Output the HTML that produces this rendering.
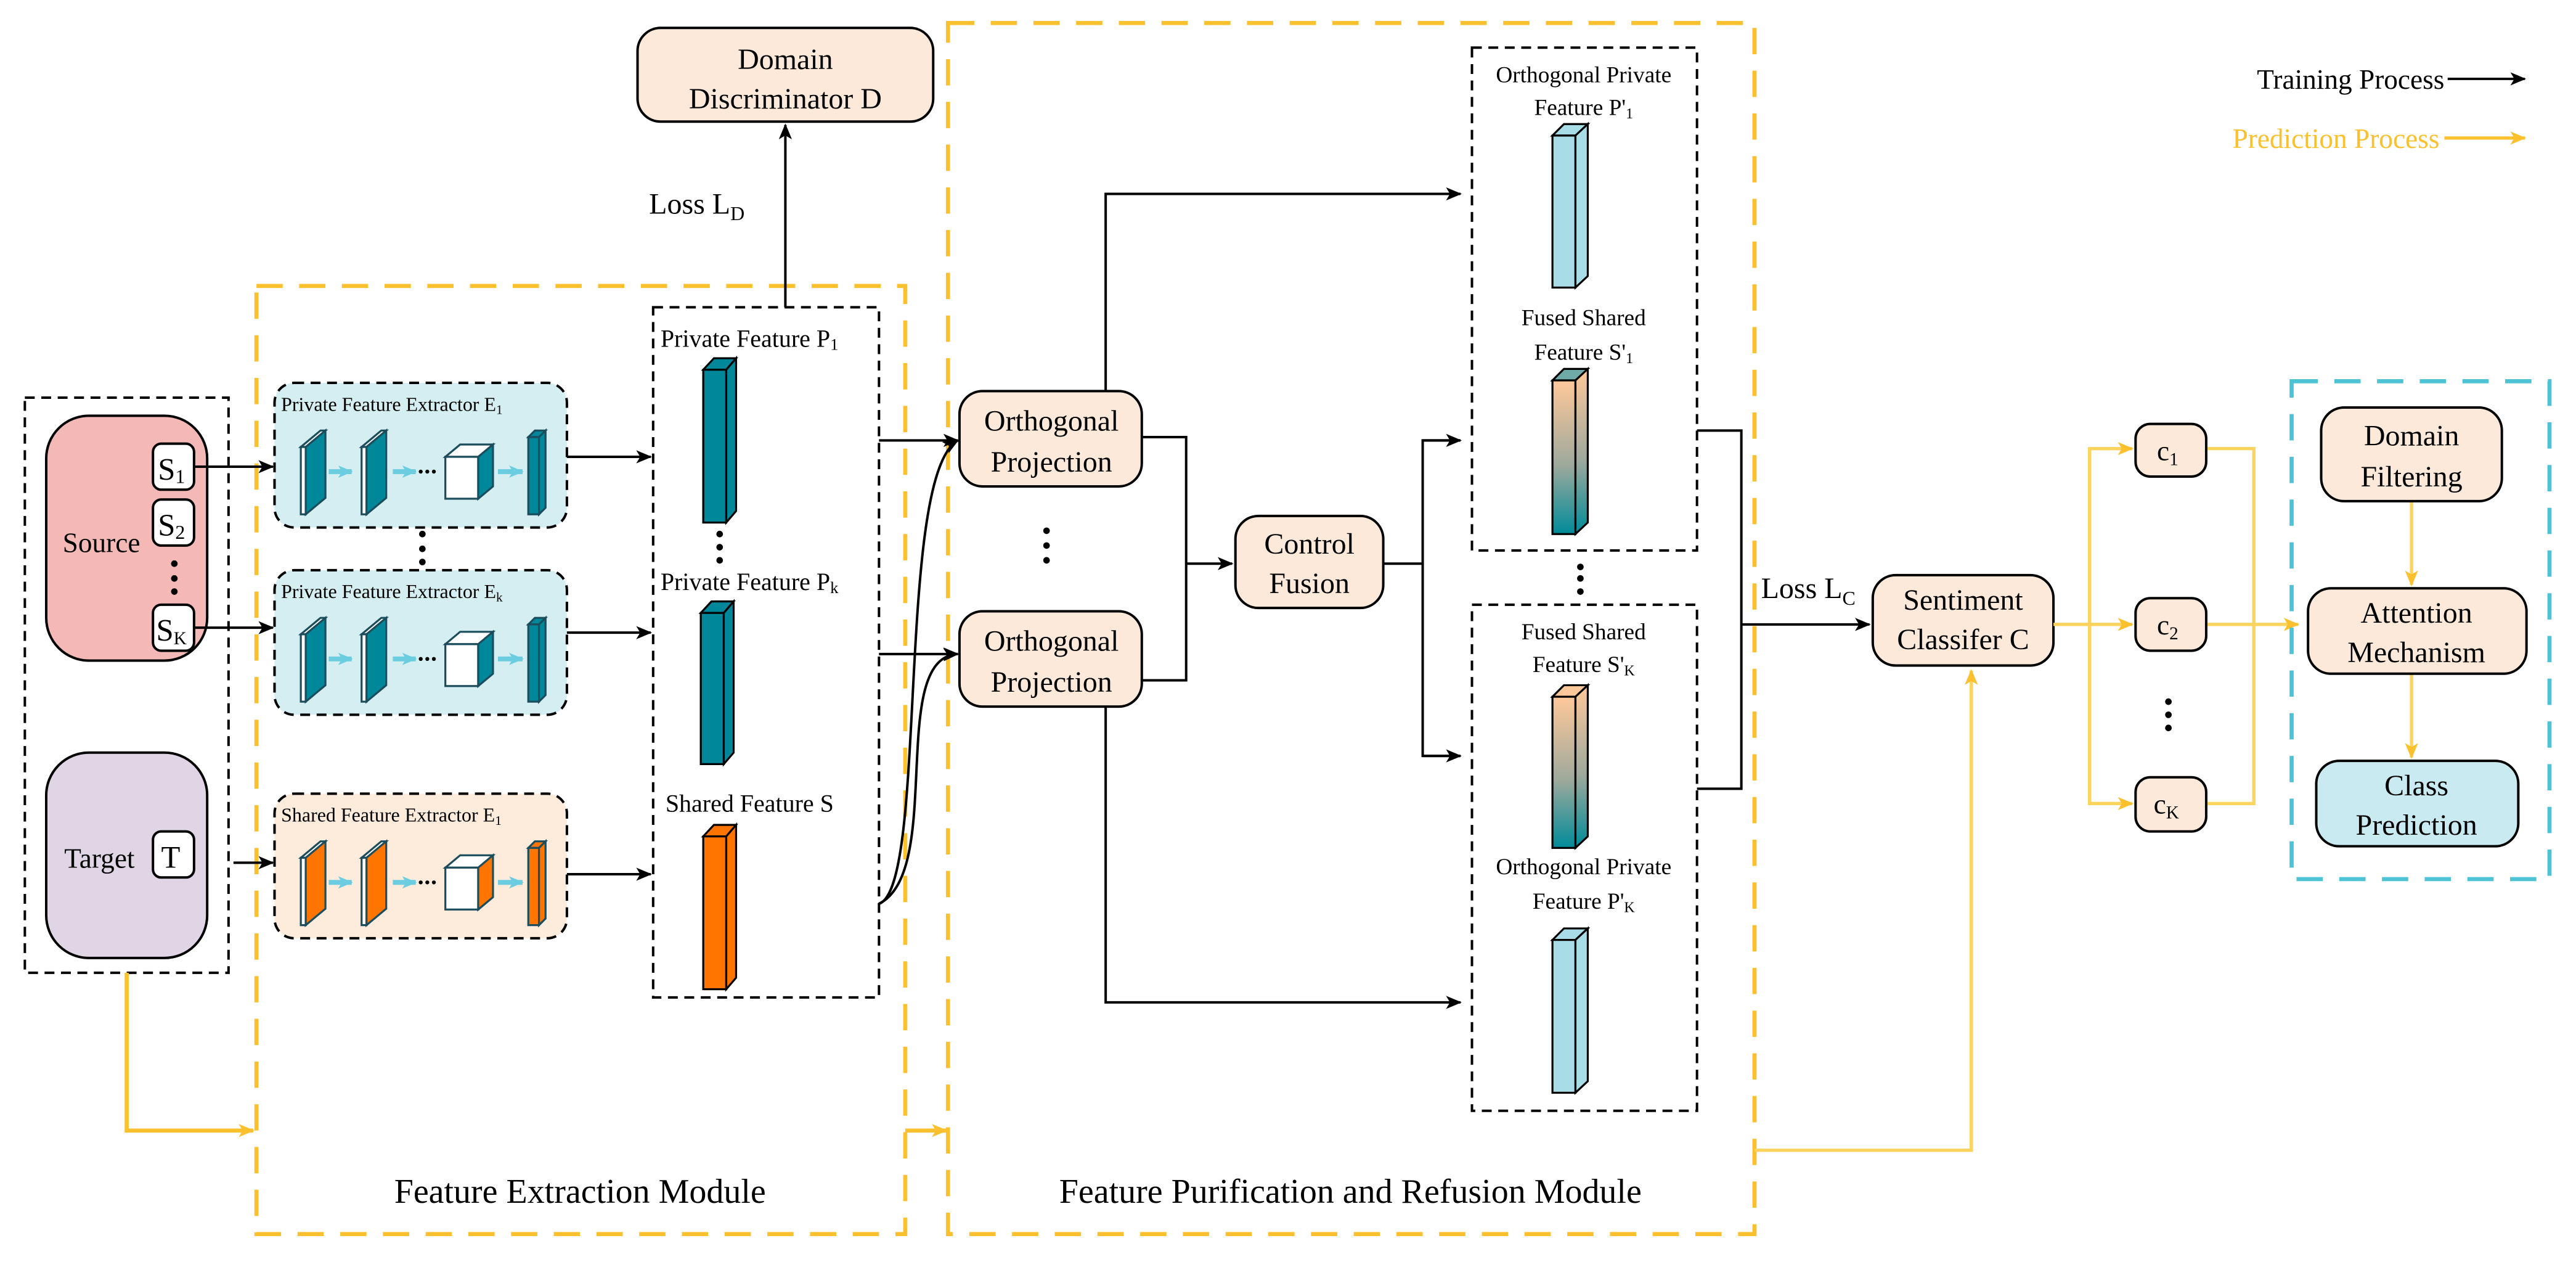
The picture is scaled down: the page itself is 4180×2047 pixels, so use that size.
<!DOCTYPE html>
<html><head><meta charset="utf-8"><style>html,body{margin:0;padding:0;background:#fff}svg{display:block}svg text{font-family:"Liberation Serif","Times New Roman",serif !important;fill:#000}</style></head><body>
<svg width="4180" height="2047" viewBox="0 0 1568 768" xmlns="http://www.w3.org/2000/svg" font-family="Liberation Serif, serif">
<defs>
<marker id="ab" viewBox="0 0 12 10" refX="11" refY="5" markerWidth="10" markerHeight="8" markerUnits="userSpaceOnUse" orient="auto"><path d="M0,0 L12,5 L0,10 L3,5 z" fill="#000"/></marker>
<marker id="ay" viewBox="0 0 12 10" refX="11" refY="5" markerWidth="10" markerHeight="8" markerUnits="userSpaceOnUse" orient="auto"><path d="M0,0 L12,5 L0,10 L3,5 z" fill="#fbc02d"/></marker>
<marker id="ac" viewBox="0 0 12 10" refX="11" refY="5" markerWidth="9" markerHeight="9" markerUnits="userSpaceOnUse" orient="auto"><path d="M0,0 L12,5 L0,10 L3,5 z" fill="#6ccde0"/></marker>
<linearGradient id="gr" x1="0" y1="0" x2="0" y2="1"><stop offset="0" stop-color="#ffc89a"/><stop offset="0.55" stop-color="#9ea99c"/><stop offset="1" stop-color="#008b99"/></linearGradient>
<g id="extT">
 <rect x="0" y="0" width="178" height="88" rx="12" fill="#d5eef2" stroke="#000" stroke-width="1.5" stroke-dasharray="6,4"/>
 <g stroke="#1b4d5c" stroke-width="1.2">
 <polygon points="16,39 28,29 31,29 19,39" fill="#fff"/><rect x="16" y="39" width="3" height="41" fill="#fff"/><polygon points="19,39 31,29 31,70 19,80" fill="#00879a"/>
 <polygon points="53,39 65,29 68,29 56,39" fill="#fff"/><rect x="53" y="39" width="3" height="41" fill="#fff"/><polygon points="56,39 68,29 68,70 56,80" fill="#00879a"/>
 <polygon points="104,45 113,37.5 133,37.5 124,45" fill="#fff"/><rect x="104" y="45" width="20" height="25.5" fill="#fff"/><polygon points="124,45 133,37.5 133,63 124,70.5" fill="#00879a"/>
 <polygon points="154.5,33 158.5,29 165,29 161,33" fill="#00879a"/><rect x="154.5" y="33" width="6.5" height="47" fill="#00879a"/><polygon points="161,33 165,29 165,76 161,80" fill="#00879a"/>
 </g>
 <circle cx="89" cy="54" r="1.2"/><circle cx="93" cy="54" r="1.2"/><circle cx="97" cy="54" r="1.2"/>
 <g stroke="#6ccde0" stroke-width="3"><line x1="33" y1="54" x2="47" y2="54" marker-end="url(#ac)"/><line x1="72" y1="54" x2="86" y2="54" marker-end="url(#ac)"/><line x1="136" y1="54" x2="151" y2="54" marker-end="url(#ac)"/></g>
</g>
<g id="extS">
 <rect x="0" y="0" width="178" height="88" rx="12" fill="#fdebdc" stroke="#000" stroke-width="1.5" stroke-dasharray="6,4"/>
 <g stroke="#1b4d5c" stroke-width="1.2">
 <polygon points="16,39 28,29 31,29 19,39" fill="#fff"/><rect x="16" y="39" width="3" height="41" fill="#fff"/><polygon points="19,39 31,29 31,70 19,80" fill="#ff7500"/>
 <polygon points="53,39 65,29 68,29 56,39" fill="#fff"/><rect x="53" y="39" width="3" height="41" fill="#fff"/><polygon points="56,39 68,29 68,70 56,80" fill="#ff7500"/>
 <polygon points="104,45 113,37.5 133,37.5 124,45" fill="#fff"/><rect x="104" y="45" width="20" height="25.5" fill="#fff"/><polygon points="124,45 133,37.5 133,63 124,70.5" fill="#ff7500"/>
 <polygon points="154.5,33 158.5,29 165,29 161,33" fill="#ff7500"/><rect x="154.5" y="33" width="6.5" height="47" fill="#ff7500"/><polygon points="161,33 165,29 165,76 161,80" fill="#ff7500"/>
 </g>
 <circle cx="89" cy="54" r="1.2"/><circle cx="93" cy="54" r="1.2"/><circle cx="97" cy="54" r="1.2"/>
 <g stroke="#6ccde0" stroke-width="3"><line x1="33" y1="54" x2="47" y2="54" marker-end="url(#ac)"/><line x1="72" y1="54" x2="86" y2="54" marker-end="url(#ac)"/><line x1="136" y1="54" x2="151" y2="54" marker-end="url(#ac)"/></g>
</g>
</defs>

<!-- legend -->
<text x="1488" y="54" font-size="17" text-anchor="end">Training Process</text>
<line x1="1490" y1="48" x2="1537" y2="48" stroke="#000" stroke-width="1.5" marker-end="url(#ab)"/>
<text x="1485" y="90" font-size="17" text-anchor="end" style="fill:#fbc02d">Prediction Process</text>
<line x1="1488" y1="84" x2="1537" y2="84" stroke="#fbc02d" stroke-width="2" marker-end="url(#ay)"/>

<!-- input box -->
<rect x="15" y="242" width="124" height="350" fill="none" stroke="#000" stroke-width="1.5" stroke-dasharray="6,4"/>
<rect x="28" y="253" width="98" height="149" rx="26" fill="#f4b9b6" stroke="#000" stroke-width="1.5"/>
<text x="38" y="336" font-size="17">Source</text>
<rect x="93" y="270" width="25" height="28" rx="5" fill="#fff" stroke="#000" stroke-width="1.5"/><text x="96" y="292" font-size="19">S<tspan font-size="12" dy="2">1</tspan></text>
<rect x="93" y="304" width="25" height="28" rx="5" fill="#fff" stroke="#000" stroke-width="1.5"/><text x="96" y="326" font-size="19">S<tspan font-size="12" dy="2">2</tspan></text>
<circle cx="106" cy="343" r="2"/><circle cx="106" cy="352" r="2"/><circle cx="106" cy="360" r="2"/>
<rect x="93" y="368" width="25" height="28" rx="5" fill="#fff" stroke="#000" stroke-width="1.5"/><text x="95" y="390" font-size="19">S<tspan font-size="11" dy="2">K</tspan></text>
<rect x="28" y="458" width="98" height="125" rx="26" fill="#e0d5e5" stroke="#000" stroke-width="1.5"/>
<text x="39" y="528" font-size="17">Target</text>
<rect x="93" y="506" width="25" height="28" rx="5" fill="#fff" stroke="#000" stroke-width="1.5"/><text x="98" y="528" font-size="19">T</text>

<!-- feature extraction module -->
<rect x="156" y="174" width="395" height="577" fill="none" stroke="#fbc02d" stroke-width="2.5" stroke-dasharray="16,10"/>
<text x="353" y="732" font-size="21" text-anchor="middle">Feature Extraction Module</text>
<polyline points="77,592 77,688 154,688" fill="none" stroke="#fbc02d" stroke-width="2.5" marker-end="url(#ay)"/>
<polyline points="551,688 576,688" fill="none" stroke="#fbc02d" stroke-width="2.5" marker-end="url(#ay)"/>

<use href="#extT" x="167" y="233"/>
<text x="171" y="250" font-size="12">Private Feature Extractor E<tspan font-size="8" dy="2">1</tspan></text>
<use href="#extT" x="167" y="347"/>
<text x="171" y="364" font-size="12">Private Feature Extractor E<tspan font-size="8" dy="2">k</tspan></text>
<use href="#extS" x="167" y="483"/>
<text x="171" y="500" font-size="12">Shared Feature Extractor E<tspan font-size="8" dy="2">1</tspan></text>
<circle cx="257" cy="325" r="2"/><circle cx="257" cy="334" r="2"/><circle cx="257" cy="342" r="2"/>

<g stroke="#000" stroke-width="1.5" fill="none">
<line x1="118" y1="284" x2="166" y2="284" marker-end="url(#ab)"/>
<line x1="118" y1="382" x2="166" y2="382" marker-end="url(#ab)"/>
<line x1="142" y1="525" x2="166" y2="525" marker-end="url(#ab)"/>
<line x1="345" y1="278" x2="396" y2="278" marker-end="url(#ab)"/>
<line x1="345" y1="385" x2="396" y2="385" marker-end="url(#ab)"/>
<line x1="345" y1="532" x2="396" y2="532" marker-end="url(#ab)"/>
</g>

<!-- private feature box -->
<rect x="397.5" y="187" width="137.5" height="420" fill="none" stroke="#000" stroke-width="1.5" stroke-dasharray="6,4"/>
<text x="402" y="211" font-size="15">Private Feature P<tspan font-size="10" dy="2">1</tspan></text>
<g stroke="#000" stroke-width="1.2">
<polygon points="428,225 434.5,218 448,218 442,225" fill="#00879a"/><rect x="428" y="225" width="14" height="93" fill="#00879a"/><polygon points="442,225 448,218 448,311 442,318" fill="#00879a"/>
<polygon points="426.5,373 433,366 446.5,366 440.5,373" fill="#00879a"/><rect x="426.5" y="373" width="14" height="92" fill="#00879a"/><polygon points="440.5,373 446.5,366 446.5,458 440.5,465" fill="#00879a"/>
<polygon points="428,509 434.5,502 448,502 442,509" fill="#ff7500"/><rect x="428" y="509" width="14" height="93" fill="#ff7500"/><polygon points="442,509 448,502 448,595 442,602" fill="#ff7500"/>
</g>
<circle cx="438" cy="325" r="2"/><circle cx="438" cy="333" r="2"/><circle cx="438" cy="341" r="2"/>
<text x="402" y="359" font-size="15">Private Feature P<tspan font-size="10" dy="2">k</tspan></text>
<text x="405" y="494" font-size="15">Shared Feature S</text>

<!-- domain discriminator -->
<rect x="388" y="17" width="180" height="57" rx="14" fill="#fde9da" stroke="#000" stroke-width="1.5"/>
<text x="478" y="42" font-size="18" text-anchor="middle">Domain</text>
<text x="478" y="66" font-size="18" text-anchor="middle">Discriminator D</text>
<line x1="478" y1="187" x2="478" y2="76" stroke="#000" stroke-width="1.5" marker-end="url(#ab)"/>
<text x="395" y="130" font-size="18">Loss L<tspan font-size="12" dy="4">D</tspan></text>

<!-- purification module -->
<rect x="577" y="14" width="491" height="737" fill="none" stroke="#fbc02d" stroke-width="2.5" stroke-dasharray="16,10"/>
<text x="822" y="732" font-size="21" text-anchor="middle">Feature Purification and Refusion Module</text>

<rect x="584" y="238" width="111" height="58" rx="14" fill="#fde9da" stroke="#000" stroke-width="1.5"/>
<text x="640" y="262" font-size="18" text-anchor="middle">Orthogonal</text><text x="640" y="287" font-size="18" text-anchor="middle">Projection</text>
<rect x="584" y="372" width="111" height="58" rx="14" fill="#fde9da" stroke="#000" stroke-width="1.5"/>
<text x="640" y="396" font-size="18" text-anchor="middle">Orthogonal</text><text x="640" y="421" font-size="18" text-anchor="middle">Projection</text>
<circle cx="637" cy="323" r="2"/><circle cx="637" cy="332" r="2"/><circle cx="637" cy="341" r="2"/>

<g stroke="#000" stroke-width="1.5" fill="none">
<path d="M535,268 L583,268" marker-end="url(#ab)"/>
<path d="M535,550 C565,540 545,290 583,268" marker-end="url(#ab)"/>
<path d="M535,398 L583,398" marker-end="url(#ab)"/>
<path d="M535,550 C575,530 540,400 583,398" marker-end="url(#ab)"/>
<polyline points="673,238 673,118 889,118" marker-end="url(#ab)"/>
<polyline points="673,430 673,610 889,610" marker-end="url(#ab)"/>
<polyline points="695,266 722,266 722,414 695,414"/>
<line x1="722" y1="343" x2="750" y2="343" marker-end="url(#ab)"/>
<polyline points="842,343 866,343"/>
<polyline points="889,268 866,268 866,460 889,460"/>
<line x1="866" y1="268" x2="889" y2="268" marker-end="url(#ab)"/>
<line x1="866" y1="460" x2="889" y2="460" marker-end="url(#ab)"/>
<polyline points="1033,262 1060,262 1060,480 1033,480"/>
<line x1="1060" y1="380" x2="1138" y2="380" marker-end="url(#ab)"/>
</g>
<rect x="752" y="314" width="90" height="56" rx="14" fill="#fde9da" stroke="#000" stroke-width="1.5"/>
<text x="797" y="337" font-size="18" text-anchor="middle">Control</text><text x="797" y="361" font-size="18" text-anchor="middle">Fusion</text>

<!-- top right feature box -->
<rect x="896" y="29" width="137" height="306" fill="none" stroke="#000" stroke-width="1.5" stroke-dasharray="6,4"/>
<text x="964" y="50" font-size="14" text-anchor="middle">Orthogonal Private</text>
<text x="964" y="70" font-size="14" text-anchor="middle">Feature P'<tspan font-size="9" dy="2">1</tspan></text>
<g stroke="#000" stroke-width="1.2">
<polygon points="945,82.5 952,75.5 966.5,75.5 959,82.5" fill="#a8dde8"/><rect x="945" y="82.5" width="14" height="92.5" fill="#a8dde8"/><polygon points="959,82.5 966.5,75.5 966.5,168 959,175" fill="#a8dde8"/>
<polygon points="945,231.5 952,224.5 966.5,224.5 959,231.5" fill="#6fa9a8"/><rect x="945" y="231.5" width="14" height="93.5" fill="url(#gr)"/><polygon points="959,231.5 966.5,224.5 966.5,318 959,325" fill="url(#gr)"/>
</g>
<text x="964" y="198" font-size="14" text-anchor="middle">Fused Shared</text>
<text x="964" y="219" font-size="14" text-anchor="middle">Feature S'<tspan font-size="9" dy="2">1</tspan></text>
<circle cx="962" cy="345" r="2"/><circle cx="962" cy="352" r="2"/><circle cx="962" cy="360" r="2"/>

<rect x="896" y="368" width="137" height="308" fill="none" stroke="#000" stroke-width="1.5" stroke-dasharray="6,4"/>
<text x="964" y="389" font-size="14" text-anchor="middle">Fused Shared</text>
<text x="964" y="409" font-size="14" text-anchor="middle">Feature S'<tspan font-size="9" dy="2">K</tspan></text>
<g stroke="#000" stroke-width="1.2">
<polygon points="945,424 952,417 966.5,417 959,424" fill="#ffc89a"/><rect x="945" y="424" width="14" height="92" fill="url(#gr)"/><polygon points="959,424 966.5,417 966.5,509 959,516" fill="url(#gr)"/>
<polygon points="945,572 952,565 966.5,565 959,572" fill="#a8dde8"/><rect x="945" y="572" width="14" height="93" fill="#a8dde8"/><polygon points="959,572 966.5,565 966.5,658 959,665" fill="#a8dde8"/>
</g>
<text x="964" y="532" font-size="14" text-anchor="middle">Orthogonal Private</text>
<text x="964" y="553" font-size="14" text-anchor="middle">Feature P'<tspan font-size="9" dy="2">K</tspan></text>

<text x="1072" y="364" font-size="18">Loss L<tspan font-size="12" dy="4">C</tspan></text>

<!-- classifier -->
<rect x="1140" y="350" width="110" height="55" rx="14" fill="#fde9da" stroke="#000" stroke-width="1.5"/>
<text x="1195" y="371" font-size="18" text-anchor="middle">Sentiment</text><text x="1195" y="395" font-size="18" text-anchor="middle">Classifer C</text>

<g stroke="#fcd35c" stroke-width="2" fill="none">
<polyline points="1068,700 1200,700 1200,408" marker-end="url(#ay)"/>
<polyline points="1250,380 1272,380"/>
<polyline points="1298,273 1272,273 1272,489 1298,489"/>
<line x1="1272" y1="273" x2="1298" y2="273" marker-end="url(#ay)"/>
<line x1="1272" y1="380" x2="1298" y2="380" marker-end="url(#ay)"/>
<line x1="1272" y1="489" x2="1298" y2="489" marker-end="url(#ay)"/>
<polyline points="1343,273 1372,273 1372,489 1343,489"/>
<line x1="1343" y1="380" x2="1372" y2="380"/>
<line x1="1372" y1="380" x2="1399" y2="380" marker-end="url(#ay)"/>
<line x1="1468" y1="305" x2="1468" y2="356" marker-end="url(#ay)"/>
<line x1="1468" y1="410" x2="1468" y2="461" marker-end="url(#ay)"/>
</g>
<rect x="1300" y="258" width="43" height="32" rx="9" fill="#fde9da" stroke="#000" stroke-width="1.5"/><text x="1313" y="280" font-size="17">c<tspan font-size="11" dy="3">1</tspan></text>
<rect x="1300" y="364" width="43" height="32" rx="9" fill="#fde9da" stroke="#000" stroke-width="1.5"/><text x="1313" y="386" font-size="17">c<tspan font-size="11" dy="3">2</tspan></text>
<rect x="1300" y="473" width="43" height="33" rx="9" fill="#fde9da" stroke="#000" stroke-width="1.5"/><text x="1311" y="495" font-size="17">c<tspan font-size="11" dy="3">K</tspan></text>
<circle cx="1320" cy="427" r="2"/><circle cx="1320" cy="435" r="2"/><circle cx="1320" cy="443" r="2"/>

<rect x="1395" y="232" width="157" height="303" fill="none" stroke="#4fc3d6" stroke-width="2.5" stroke-dasharray="16,10"/>
<rect x="1413" y="248" width="110" height="57" rx="14" fill="#fde9da" stroke="#000" stroke-width="1.5"/>
<text x="1468" y="271" font-size="18" text-anchor="middle">Domain</text><text x="1468" y="296" font-size="18" text-anchor="middle">Filtering</text>
<rect x="1405" y="358" width="133" height="52" rx="14" fill="#fde9da" stroke="#000" stroke-width="1.5"/>
<text x="1471" y="379" font-size="18" text-anchor="middle">Attention</text><text x="1471" y="403" font-size="18" text-anchor="middle">Mechanism</text>
<rect x="1410" y="463" width="123" height="52" rx="14" fill="#c8eaf0" stroke="#000" stroke-width="1.5"/>
<text x="1471" y="484" font-size="18" text-anchor="middle">Class</text><text x="1471" y="508" font-size="18" text-anchor="middle">Prediction</text>
</svg>
</body></html>
